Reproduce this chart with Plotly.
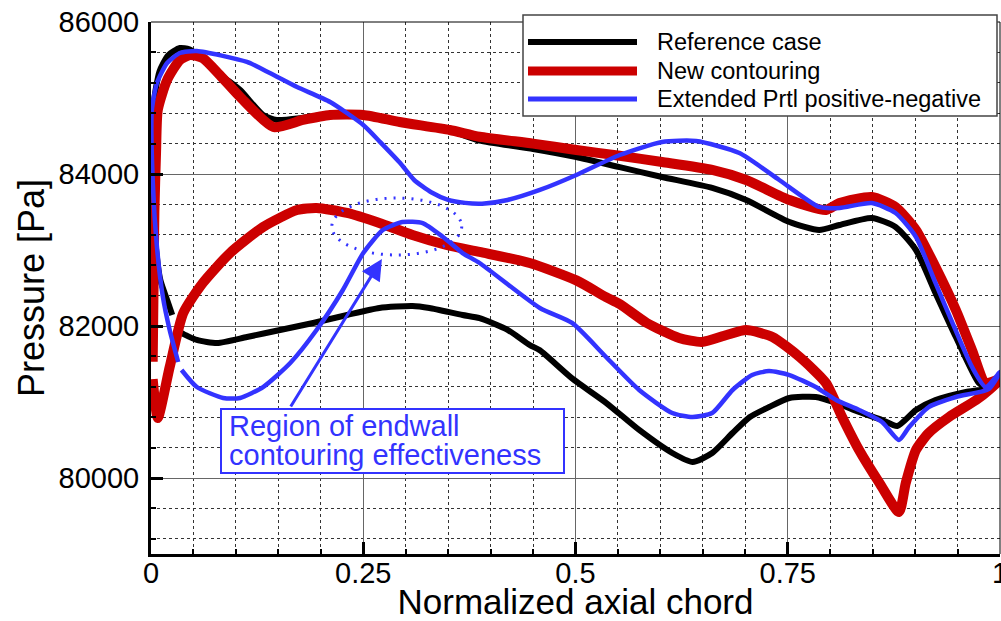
import plotly.graph_objects as go

# ---------------- data ----------------
ref_x = [0.025, 0.019, 0.011, 0.005, 0.002, 0.002, 0.004, 0.010, 0.020, 0.034, 0.045, 0.067, 0.085, 0.105,
         0.132, 0.148, 0.179, 0.211, 0.25, 0.293, 0.352, 0.387, 0.45, 0.501, 0.552, 0.602, 0.661, 0.701,
         0.752, 0.787, 0.811, 0.849, 0.877, 0.901, 0.924, 0.948, 0.975, 0.985, 1.0,
         0.987, 0.96, 0.924, 0.901, 0.879, 0.861, 0.834, 0.807, 0.783, 0.752, 0.728, 0.705, 0.685, 0.661,
         0.638, 0.614, 0.575, 0.536, 0.496, 0.458, 0.446, 0.42, 0.387, 0.367, 0.328, 0.308, 0.269, 0.231,
         0.191, 0.152, 0.113, 0.078, 0.054, 0.036, 0.030]
ref_y = [82145, 82342, 82605, 83132, 83920, 84500, 85000, 85350, 85560, 85658, 85640, 85461, 85280, 85105,
         84776, 84711, 84740, 84790, 84770, 84700, 84570, 84440, 84330, 84224, 84090, 83960, 83816, 83658,
         83368, 83263, 83329, 83421, 83303, 83000, 82434, 81855, 81250, 81190, 81330,
         81184, 81132, 81026, 80895, 80684, 80763, 80868, 80987, 81066, 81053, 80934, 80800, 80592, 80329,
         80211, 80329, 80632, 80990, 81310, 81680, 81750, 81950, 82105, 82145, 82237, 82263, 82237, 82145,
         82040, 81947, 81855, 81776, 81816, 81908, 81960]

new_x = [0.002, 0.003, 0.004, 0.006, 0.008, 0.019, 0.034, 0.046, 0.061, 0.081, 0.105, 0.144, 0.179, 0.211,
         0.25, 0.293, 0.352, 0.387, 0.45, 0.501, 0.552, 0.602, 0.661, 0.701, 0.752, 0.795, 0.811, 0.849,
         0.877, 0.901, 0.924, 0.948, 0.967, 0.983, 1.0,
         0.987, 0.972, 0.94, 0.916, 0.901, 0.889, 0.881, 0.858, 0.834, 0.814, 0.795, 0.764, 0.732, 0.701,
         0.678, 0.649, 0.622, 0.584, 0.552, 0.536, 0.501, 0.446, 0.387, 0.348, 0.308, 0.269, 0.231, 0.195,
         0.172, 0.132, 0.093, 0.061, 0.038, 0.022, 0.008, 0.002]
new_y = [81530, 82500, 83500, 84300, 84842, 85237, 85500, 85566, 85526, 85303, 85013, 84618, 84711, 84776,
         84776, 84684, 84579, 84490, 84400, 84316, 84240, 84158, 84053, 83921, 83658, 83526, 83618, 83697,
         83566, 83263, 82776, 82211, 81684, 81250, 81300,
         81158, 81026, 80803, 80592, 80368, 79934, 79553, 79934, 80368, 80803, 81250, 81592, 81855, 81947,
         81882, 81790, 81842, 82040, 82290, 82380, 82600, 82829, 82974, 83066, 83197, 83355, 83487, 83553,
         83526, 83303, 82960, 82566, 82171, 81460, 80790, 81300]

ext_x = [0.032, 0.022, 0.014, 0.007, 0.002, 0.001, 0.007, 0.019, 0.034, 0.054, 0.113, 0.14, 0.172, 0.211,
         0.25, 0.27, 0.293, 0.31, 0.33, 0.35, 0.37, 0.39, 0.42, 0.458, 0.501, 0.552, 0.602, 0.642, 0.693,
         0.74, 0.787, 0.811, 0.849, 0.877, 0.901, 0.924, 0.944, 0.967, 0.983, 1.0,
         0.987, 0.948, 0.916, 0.893, 0.881, 0.861, 0.834, 0.807, 0.783, 0.752, 0.728, 0.708, 0.685, 0.661,
         0.638, 0.614, 0.575, 0.536, 0.496, 0.458, 0.387, 0.367, 0.344, 0.32, 0.296, 0.273, 0.25, 0.226,
         0.195, 0.164, 0.132, 0.105, 0.085, 0.054, 0.036]
ext_y = [81526, 81947, 82382, 83040, 83921, 84842, 85197, 85461, 85592, 85618, 85474, 85329, 85145, 84947,
         84645, 84420, 84150, 83921, 83760, 83660, 83620, 83610, 83658, 83790, 83987, 84250, 84421, 84434, 84276,
         83921, 83566, 83553, 83618, 83487, 83171, 82566, 82040, 81461, 81197, 81395,
         81171, 81066, 80934, 80671, 80500, 80737, 80895, 81026, 81197, 81355, 81408, 81355, 81158, 80855,
         80803, 80855, 81158, 81592, 82040, 82237, 82829, 82960, 83171, 83355, 83368, 83263, 82960, 82474,
         81947, 81513, 81197, 81053, 81053, 81197, 81421]

series_names = ["Reference case", "New contouring", "Extended Prtl positive-negative"]
x_tick_vals = [0, 0.25, 0.5, 0.75, 1]
x_tick_text = ["0", "0.25", "0.5", "0.75", "1"]
y_tick_vals = [80000, 82000, 84000, 86000]
y_tick_text = ["80000", "82000", "84000", "86000"]
note_lines = ["Region of endwall", "contouring effectiveness"]
arrow_tip = (0.272, 82882)
arrow_tail = (0.1635, 80921)
ellipse_box = (0.213, 0.366, 82934, 83684)

# ---------------- style ----------------
BLACK = "#000000"
RED = "#CC0000"
BLUE = "#3333FF"
FONT = "Liberation Sans, Arial, sans-serif"

fig = go.Figure()
fig.add_trace(go.Scatter(x=ref_x, y=ref_y, mode="lines", name=series_names[0],
                         line=dict(color=BLACK, width=6, shape="spline", smoothing=0.6), showlegend=False))
fig.add_trace(go.Scatter(x=new_x, y=new_y, mode="lines", name=series_names[1],
                         line=dict(color=RED, width=10, shape="spline", smoothing=0.6), showlegend=False))
fig.add_trace(go.Scatter(x=ext_x, y=ext_y, mode="lines", name=series_names[2],
                         line=dict(color=BLUE, width=4.5, shape="spline", smoothing=0.6), showlegend=False))

L, R, T, B = 151, 1, 22, 67
W, H = 1001, 621
pw, ph = W - L - R, H - T - B

def px(xp):
    return (xp - L) / pw

def py(yp):
    return (H - B - yp) / ph

shapes = []
# top and right thin borders
shapes.append(dict(type="line", xref="paper", yref="paper", x0=0, x1=1, y0=1, y1=1,
                   line=dict(color="black", width=1), layer="above"))
shapes.append(dict(type="line", xref="paper", yref="paper", x0=1, x1=1, y0=0, y1=1,
                   line=dict(color="black", width=1), layer="above"))
# dotted ellipse
shapes.append(dict(type="circle", xref="x", yref="y", x0=ellipse_box[0], x1=ellipse_box[1],
                   y0=ellipse_box[2], y1=ellipse_box[3],
                   line=dict(color=BLUE, width=3, dash="2px,7px"), layer="above"))
# annotation box
shapes.append(dict(type="rect", xref="paper", yref="paper", x0=px(221), x1=px(564), y0=py(473), y1=py(409),
                   fillcolor="white", line=dict(color=BLUE, width=2), layer="above"))
# legend box
shapes.append(dict(type="rect", xref="paper", yref="paper", x0=px(523), x1=px(997), y0=py(116), y1=py(15),
                   fillcolor="white", line=dict(color="#444444", width=1.5), layer="above"))
leg_rows = [42, 71, 99]
leg_colors = [BLACK, RED, BLUE]
leg_widths = [6, 9, 5]
annotations = []
for name, row, col, wd in zip(series_names, leg_rows, leg_colors, leg_widths):
    shapes.append(dict(type="line", xref="paper", yref="paper", x0=px(528), x1=px(637), y0=py(row), y1=py(row),
                       line=dict(color=col, width=wd), layer="above"))
    annotations.append(dict(xref="paper", yref="paper", x=px(655), y=py(row), xanchor="left", yanchor="middle",
                            text=name, showarrow=False, font=dict(family=FONT, size=23.5, color="black")))

for line_text, row in zip(note_lines, [426, 455]):
    annotations.append(dict(xref="paper", yref="paper", x=px(227), y=py(row), xanchor="left", yanchor="middle",
                            text=line_text, showarrow=False, font=dict(family=FONT, size=29, color=BLUE)))

annotations.append(dict(xref="x", yref="y", x=arrow_tip[0], y=arrow_tip[1], axref="x", ayref="y",
                        ax=arrow_tail[0], ay=arrow_tail[1], text="", showarrow=True, arrowhead=2,
                        arrowsize=1.4, arrowwidth=3, arrowcolor=BLUE))

fig.update_layout(
    width=W, height=H,
    margin=dict(l=L, r=R, t=T, b=B, pad=0),
    paper_bgcolor="white", plot_bgcolor="white",
    font=dict(family=FONT, color="black"),
    shapes=shapes, annotations=annotations,
    showlegend=False,
)
fig.update_xaxes(
    range=[0, 1], tickvals=x_tick_vals, ticktext=x_tick_text,
    ticks="inside", ticklen=12, tickwidth=3, tickcolor="black",
    showline=True, linewidth=3, linecolor="black", mirror=False,
    showgrid=True, gridcolor="#666666", gridwidth=1.2,
    zeroline=False, automargin=False, ticklabeloverflow="allow",
    tickfont=dict(family=FONT, size=29, color="black"), ticklabelstandoff=-9,
    minor=dict(dtick=0.05, tick0=0, ticks="inside", ticklen=5, tickwidth=1.5, tickcolor="black",
               showgrid=True, gridcolor="#333333", gridwidth=1, griddash="dot"),
    title=dict(text="Normalized axial chord", font=dict(family=FONT, size=35, color="black"), standoff=4),
)
fig.update_yaxes(
    range=[79000, 86000], tickvals=y_tick_vals, ticktext=y_tick_text,
    ticks="inside", ticklen=12, tickwidth=3, tickcolor="black",
    showline=True, linewidth=3, linecolor="black", mirror=False,
    showgrid=True, gridcolor="#666666", gridwidth=1.2,
    zeroline=False, automargin=False, ticklabeloverflow="allow",
    tickfont=dict(family=FONT, size=29, color="black"), ticklabelstandoff=3,
    minor=dict(dtick=400, tick0=80000, ticks="inside", ticklen=5, tickwidth=1.5, tickcolor="black",
               showgrid=True, gridcolor="#333333", gridwidth=1, griddash="dot"),
    title=dict(text="Pressure [Pa]", font=dict(family=FONT, size=36, color="black"), standoff=3),
)

fig.write_html("out.html")
